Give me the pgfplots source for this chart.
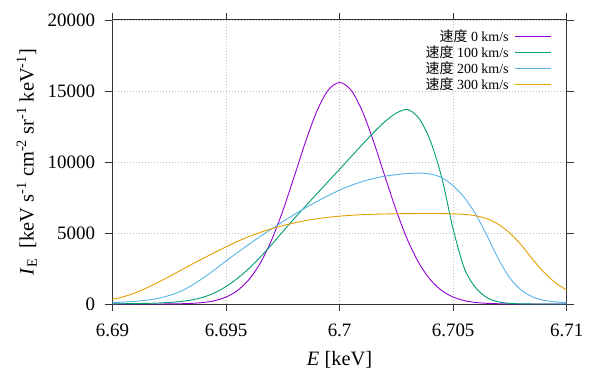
\documentclass[border=0pt]{standalone}
\usepackage{fontspec}
\setmainfont{Liberation Serif}
\newfontfamily\cjk{Noto Sans CJK SC}
\usepackage{pgfplots}
\pgfplotsset{compat=1.18}
\usepackage{pgfplotstable}

\definecolor{c0}{HTML}{9400D3}
\definecolor{c1}{HTML}{009E73}
\definecolor{c2}{HTML}{56B4E9}
\definecolor{c3}{HTML}{E69F00}

% x = (E - 6.69 keV) in eV
\pgfplotstableread{
x     p0     p100   p200   p300
0.0   0      12     95     330
0.5   0      20     135    520
1.0   0      30     190    790
1.5   0      45     270    1130
2.0   2      70     395    1520
2.5   6      110    600    1940
3.0   18     175    890    2370
3.5   45     290    1320   2800
4.0   107    480    1840   3220
4.5   236    790    2420   3630
5.0   489    1230   3030   4030
5.5   944    1800   3620   4400
6.0   1702   2490   4195   4740
6.5   2859   3290   4750   5040
7.0   4485   4170   5280   5300
7.5   6565   5100   5800   5520
8.0   8965   6010   6300   5710
8.5   11424  6895   6775   5870
9.0   13583  7765   7220   6000
9.5   15069  8630   7635   6105
10.0  15600  9490   8020   6185
10.5  15069  10360  8350   6245
11.0  13583  11230  8620   6290
11.5  11424  12080  8840   6320
12.0  8965   12850  9000   6340
12.5  6565   13450  9110   6355
13.0  4485   13690  9190   6365
13.5  2859   13060  9220   6370
14.0  1702   11480  9150   6372
14.5  944    8890   8900   6368
15.0  489    5280   8330   6350
15.5  236    2480   7480   6310
16.0  107    1130   6300   6210
16.5  45     440    4780   6000
17.0  18     150    3150   5600
17.5  6      45     1820   4990
18.0  2      12     980    4150
18.5  0      3      500    3150
19.0  0      0      260    2230
19.5  0      0      150    1500
20.0  0      0      95     980
}\data

\begin{document}
\begin{tikzpicture}
\begin{axis}[
  at={(0,0)}, anchor=south west,
  scale only axis, width=454.2bp, height=284bp,
  xmin=0, xmax=20, ymin=0, ymax=20000,
  xtick={0,5,10,15,20},
  xticklabels={6.69,6.695,6.7,6.705,6.71},
  ytick={0,5000,10000,15000,20000},
  yticklabels={0,5000,10000,15000,20000},
  scaled y ticks=false, scaled x ticks=false,
  tick align=outside, major tick length=7bp,
  tick style={black!80, line width=0.8bp},
  axis line style={black!80, line width=1bp},
  grid=major,
  grid style={gray!50, line width=0.5bp, dash pattern=on 1bp off 2bp},
  ticklabel style={font=\fontsize{19}{22}\selectfont},
  xticklabel shift=9bp, yticklabel shift=7bp,
  label style={font=\fontsize{20.5}{23}\selectfont},
  xlabel shift=8bp, ylabel shift=4bp,
  xlabel={\textit{E} [keV]},
  ylabel={\textit{I}\textsubscript{E}\ \ [keV s\textsuperscript{-1} cm\textsuperscript{-2} sr\textsuperscript{-1} keV\textsuperscript{-1}]},
  legend plot pos=right, legend cell align=right,
  legend style={draw=none, fill=none, at={(axis description cs:1,1)}, anchor=north east,
    xshift=-13bp, yshift=-6bp, font=\fontsize{14}{15.7}\selectfont,
    row sep=-1.5bp, column sep=4bp, inner sep=2bp},
  legend image code/.code={\draw[#1] (0bp,0bp) -- (36bp,0bp);},
  every axis plot/.append style={line width=0.9bp},
]
\addplot[c0, smooth] table[x=x, y=p0] {\data};
\addlegendentry{{\cjk 速度} 0 km/s}
\addplot[c1, smooth] table[x=x, y=p100] {\data};
\addlegendentry{{\cjk 速度} 100 km/s}
\addplot[c2, smooth] table[x=x, y=p200] {\data};
\addlegendentry{{\cjk 速度} 200 km/s}
\addplot[c3, smooth] table[x=x, y=p300] {\data};
\addlegendentry{{\cjk 速度} 300 km/s}
\end{axis}
\pgfresetboundingbox
\path[use as bounding box] (-112.5bp,-65bp) rectangle (483.5bp,304bp);
\end{tikzpicture}
\end{document}
